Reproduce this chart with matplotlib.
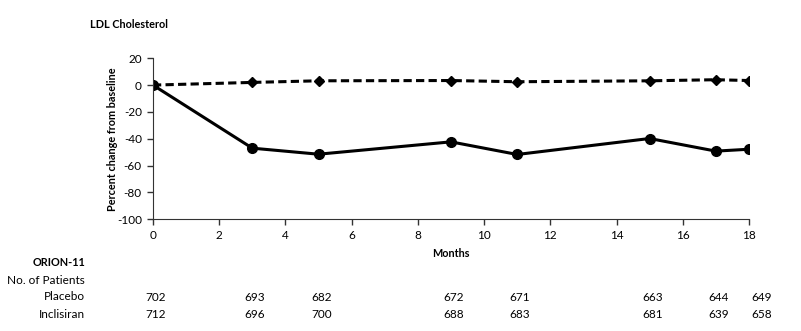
import matplotlib.pyplot as plt
import numpy as np

months = [0, 3, 5, 9, 11, 15, 17, 18]
placebo = [0, 2, 3.2, 3.4, 2.5, 3.2, 4, 3.4]
inclisiran = [0, -47, -51.5, -42.3, -51.7, -39.8, -49.2, -47.8]
n_placebo = [702, 693, 682, 672, 671, 663, 644, 649]
n_inclisiran = [712, 696, 700, 688, 683, 681, 639, 658]

plt.rcParams['font.family'] = ['Lato', 'DejaVu Sans']
plt.rcParams['font.size'] = 8.5
plt.rcParams['axes.unicode_minus'] = False
bold = dict(fontweight='bold', fontsize=7.8)

fig = plt.figure(figsize=(8.01, 3.31), dpi=100)
ax = fig.add_axes([0.191, 0.3375, 0.744, 0.4865])

ax.plot(months, placebo, color='black', linestyle=(0, (2.7, 1.4)), linewidth=2.2,
        marker='D', markersize=5.2)
ax.plot(months, inclisiran, color='black', linestyle='-', linewidth=2.2,
        marker='o', markersize=7)

ax.set_xlim(0, 18)
ax.set_ylim(-100, 20)
ax.set_xticks(np.arange(0, 19, 2))
ax.set_yticks(np.arange(-100, 21, 20))
ax.spines['top'].set_visible(False)
ax.spines['right'].set_visible(False)
for s in ax.spines.values():
    s.set_color('#333333')
ax.tick_params(direction='out', length=4, width=1, color='#333333', pad=4)
ax.set_xlabel('Months', labelpad=5, **bold)
ax.set_ylabel('Percent change from baseline', labelpad=-1, **bold)

fig.text(90 / 801, 1 - 25 / 331, 'LDL Cholesterol', va='center', **bold)

# patient count table
fig.text(85 / 801, 1 - 262 / 331, 'ORION-11', ha='right', va='center', **bold)
fig.text(85 / 801, 1 - 280 / 331, 'No. of Patients', ha='right', va='center')
fig.text(85 / 801, 1 - 297 / 331, 'Placebo', ha='right', va='center')
fig.text(85 / 801, 1 - 314 / 331, 'Inclisiran', ha='right', va='center')
trans = ax.get_xaxis_transform()
for i, m in enumerate(months):
    dx = 9 if m == 18 else 2
    ax.annotate(str(n_placebo[i]), (m, 0), xycoords=trans,
                xytext=(dx, -(297 - 219) * 0.72), textcoords='offset points',
                ha='center', va='center', annotation_clip=False)
    ax.annotate(str(n_inclisiran[i]), (m, 0), xycoords=trans,
                xytext=(dx, -(314 - 219) * 0.72), textcoords='offset points',
                ha='center', va='center', annotation_clip=False)

fig.savefig('out.png', dpi=100)
